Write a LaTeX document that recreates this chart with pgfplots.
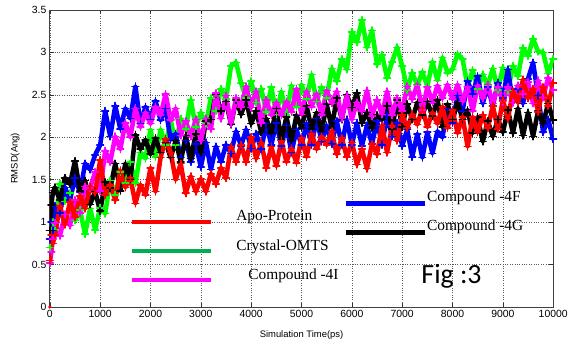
\documentclass[border=0pt]{standalone}
\usepackage{fontspec}
\setmainfont{Liberation Serif}
\setsansfont{Liberation Sans}
\newfontfamily\carlito{Carlito}
\usepackage{pgfplots}
\pgfplotsset{compat=1.18}
\definecolor{sgreen}{RGB}{0,255,0}
\definecolor{lgreen}{RGB}{0,176,80}
\definecolor{smag}{RGB}{255,0,255}
\pgfplotsset{ser/.style={line width=4.6pt, mark=+, mark size=3.4pt, mark options={line width=1.6pt}, line join=round, line cap=round}}
\begin{document}
\begin{tikzpicture}
\begin{axis}[name=ax,
  width=505bp, height=298bp, scale only axis,
  xmin=0, xmax=10000, ymin=0, ymax=3.5,
  xtick={0,1000,...,10000}, ytick={0,0.5,...,3.5},
  scaled x ticks=false,
  xticklabel style={/pgf/number format/1000 sep={}},
  /pgf/number format/assume math mode=true,
  tick label style={font=\sffamily\fontsize{10.5}{12}\selectfont},
  grid=major, major grid style={dotted, gray!70!black, line width=0.6pt},
  tick align=inside, tick pos=both, major tick length=4bp,
  tick style={gray!40!black, line width=0.6pt},
  axis line style={draw=gray!50!black, line width=0.9pt},
  xlabel={Simulation Time(ps)}, ylabel={RMSD(Ang)},
  label style={font=\sffamily\fontsize{9.5}{11}\selectfont},
  xlabel style={at={(axis description cs:0.5,-0.094)}, anchor=center},
  ylabel style={at={(axis description cs:-0.069,0.5)}, anchor=center},
]
% Crystal-OMTS
\addplot[ser, sgreen] coordinates {
(0,0.70)(30,0.90)(60,1.00)(100,0.91)(200,1.45)(300,1.25)(400,1.34)(500,1.02)(600,1.14)(700,0.86)(800,1.16)(900,0.91)
(1000,1.17)(1100,1.10)(1200,1.49)(1300,1.32)(1400,1.59)(1500,1.46)(1600,1.71)(1700,1.46)(1800,1.82)(1900,1.75)
(2000,2.09)(2100,1.77)(2200,2.09)(2300,1.91)(2400,2.21)(2500,1.91)(2600,2.22)(2700,2.10)(2800,2.44)(2900,2.12)
(3000,2.29)(3100,2.16)(3200,2.46)(3300,2.31)(3400,2.57)(3500,2.45)(3600,2.84)(3700,2.88)(3800,2.64)(3900,2.46)
(4000,2.66)(4100,2.41)(4200,2.57)(4300,2.30)(4400,2.59)(4500,2.27)(4600,2.54)(4700,2.26)(4800,2.61)(4900,2.36)
(5000,2.62)(5100,2.45)(5200,2.74)(5300,2.42)(5400,2.59)(5500,2.46)(5600,2.81)(5700,2.66)(5800,2.92)(5900,2.80)
(6000,3.24)(6100,3.12)(6200,3.38)(6300,3.06)(6400,3.26)(6500,2.86)(6600,2.97)(6700,2.70)(6800,2.89)(6900,3.06)
(7000,2.84)(7100,2.56)(7200,2.76)(7300,2.61)(7400,2.77)(7500,2.60)(7600,2.89)(7700,2.67)(7800,2.94)(7900,2.76)
(8000,2.80)(8100,2.98)(8200,2.92)(8300,2.60)(8400,2.79)(8500,2.57)(8600,2.74)(8700,2.61)(8800,2.81)(8900,2.56)
(9000,2.82)(9100,2.55)(9200,2.84)(9300,2.72)(9400,3.05)(9500,2.96)(9600,3.16)(9700,3.01)(9800,3.00)(9900,2.75)
(10000,2.92)};
% Compound-4F
\addplot[ser, blue] coordinates {
(0,0.80)(30,1.00)(60,0.90)(100,1.19)(200,1.11)(300,1.41)(400,1.26)(500,1.52)(600,1.35)(700,1.69)(800,1.62)(900,1.79)
(1000,1.91)(1100,2.31)(1200,2.01)(1300,2.37)(1400,2.10)(1500,2.34)(1600,2.22)(1700,2.60)(1800,2.16)(1900,2.36)
(2000,2.21)(2100,2.43)(2200,2.20)(2300,2.34)(2400,1.97)(2500,2.04)(2600,1.76)(2700,1.96)(2800,1.71)(2900,1.92)
(3000,1.65)(3100,1.94)(3200,1.62)(3300,1.89)(3400,1.71)(3500,1.91)(3600,1.81)(3700,2.07)(3800,1.90)(3900,2.09)
(4000,1.87)(4100,2.04)(4200,1.86)(4300,2.16)(4400,1.91)(4500,2.17)(4600,1.90)(4700,2.14)(4800,1.82)(4900,2.09)
(5000,1.91)(5100,2.16)(5200,1.91)(5300,2.22)(5400,1.95)(5500,2.14)(5600,1.92)(5700,2.19)(5800,1.91)(5900,2.21)
(6000,1.91)(6100,2.17)(6200,1.90)(6300,2.14)(6400,1.92)(6500,2.19)(6600,1.91)(6700,2.26)(6800,2.01)(6900,2.17)
(7000,1.90)(7100,2.09)(7200,1.77)(7300,2.04)(7400,1.76)(7500,2.06)(7600,1.81)(7700,2.07)(7800,2.00)(7900,2.34)
(8000,2.17)(8100,2.49)(8200,2.31)(8300,2.66)(8400,2.51)(8500,2.72)(8600,2.40)(8700,2.59)(8800,2.37)(8900,2.64)
(9000,2.46)(9100,2.80)(9200,2.41)(9300,2.57)(9400,2.40)(9500,2.69)(9600,2.88)(9700,2.49)(9800,2.06)(9900,2.21)
(10000,1.98)};
% Compound-4G
\addplot[ser, black] coordinates {
(0,0.90)(30,1.20)(60,1.35)(100,1.41)(200,1.26)(300,1.52)(400,1.45)(500,1.72)(600,1.37)(700,1.49)(800,1.21)(900,1.36)
(1000,1.13)(1100,1.47)(1200,1.40)(1300,1.69)(1400,1.37)(1500,1.69)(1600,1.51)(1700,2.03)(1800,1.86)(1900,1.97)
(2000,1.80)(2100,1.99)(2200,1.82)(2300,1.94)(2400,1.76)(2500,1.96)(2600,1.71)(2700,2.02)(2800,1.75)(2900,2.04)
(3000,1.82)(3100,2.19)(3200,2.21)(3300,2.51)(3400,2.31)(3500,2.42)(3600,2.15)(3700,2.44)(3800,2.27)(3900,2.44)
(4000,2.16)(4100,2.31)(4200,2.06)(4300,2.22)(4400,2.05)(4500,2.34)(4600,1.97)(4700,2.24)(4800,1.96)(4900,2.26)
(5000,2.11)(5100,2.37)(5200,2.10)(5300,2.29)(5400,2.07)(5500,2.39)(5600,2.11)(5700,2.46)(5800,2.21)(5900,2.50)
(6000,2.35)(6100,2.52)(6200,2.17)(6300,2.29)(6400,2.11)(6500,2.26)(6600,2.21)(6700,2.37)(6800,2.10)(6900,2.44)
(7000,2.12)(7100,2.39)(7200,2.21)(7300,2.41)(7400,2.26)(7500,2.42)(7600,2.25)(7700,2.44)(7800,2.12)(7900,2.39)
(8000,2.21)(8100,2.41)(8200,2.21)(8300,2.32)(8400,2.05)(8500,2.24)(8600,1.95)(8700,2.19)(8800,2.01)(8900,2.21)
(9000,2.06)(9100,2.32)(9200,2.05)(9300,2.34)(9400,2.02)(9500,2.29)(9600,2.01)(9700,2.31)(9800,2.16)(9900,2.40)
(10000,2.20)};
% Compound-4I
\addplot[ser, smag] coordinates {
(0,0.52)(30,0.65)(60,0.80)(100,0.99)(200,0.84)(300,1.09)(400,0.96)(500,1.26)(600,1.11)(700,1.42)(800,1.40)(900,1.59)
(1000,1.37)(1100,1.84)(1200,1.71)(1300,2.01)(1400,1.86)(1500,2.17)(1600,2.00)(1700,2.34)(1800,2.12)(1900,2.29)
(2000,2.16)(2100,2.36)(2200,2.26)(2300,2.51)(2400,2.20)(2500,2.34)(2600,2.02)(2700,2.19)(2800,2.01)(2900,2.21)
(3000,1.96)(3100,2.22)(3200,2.10)(3300,2.52)(3400,2.22)(3500,2.49)(3600,2.16)(3700,2.46)(3800,2.36)(3900,2.60)
(4000,2.35)(4100,2.54)(4200,2.17)(4300,2.44)(4400,2.26)(4500,2.41)(4600,2.26)(4700,2.42)(4800,2.30)(4900,2.57)
(5000,2.27)(5100,2.54)(5200,2.36)(5300,2.51)(5400,2.26)(5500,2.55)(5600,2.40)(5700,2.54)(5800,2.22)(5900,2.49)
(6000,2.21)(6100,2.41)(6200,2.31)(6300,2.55)(6400,2.25)(6500,2.44)(6600,2.27)(6700,2.54)(6800,2.26)(6900,2.46)
(7000,2.31)(7100,2.60)(7200,2.45)(7300,2.62)(7400,2.32)(7500,2.59)(7600,2.41)(7700,2.61)(7800,2.46)(7900,2.62)
(8000,2.45)(8100,2.62)(8200,2.42)(8300,2.59)(8400,2.31)(8500,2.61)(8600,2.46)(8700,2.62)(8800,2.40)(8900,2.59)
(9000,2.42)(9100,2.59)(9200,2.41)(9300,2.61)(9400,2.51)(9500,2.65)(9600,2.40)(9700,2.67)(9800,2.47)(9900,2.70)
(10000,2.56)};
% Apo-Protein
\addplot[ser, red] coordinates {
(0,0.55)(30,0.85)(60,0.75)(100,0.85)(200,1.19)(300,0.97)(400,1.24)(500,1.06)(600,1.31)(700,1.16)(800,1.42)(900,1.35)
(1000,1.73)(1100,1.32)(1200,1.44)(1300,1.26)(1400,1.61)(1500,1.41)(1600,1.52)(1700,1.22)(1800,1.44)(1900,1.32)
(2000,1.64)(2100,1.36)(2200,1.76)(2300,1.98)(2400,1.82)(2500,1.50)(2600,1.69)(2700,1.34)(2800,1.54)(2900,1.36)
(3000,1.51)(3100,1.36)(3200,1.57)(3300,1.45)(3400,1.64)(3500,1.52)(3600,1.89)(3700,1.71)(3800,1.91)(3900,1.71)
(4000,2.00)(4100,1.75)(4200,1.94)(4300,1.64)(4400,1.89)(4500,1.66)(4600,1.96)(4700,1.71)(4800,1.87)(4900,1.70)
(5000,1.99)(5100,1.77)(5200,2.04)(5300,1.86)(5400,2.01)(5500,1.91)(5600,2.07)(5700,1.80)(5800,1.99)(5900,1.77)
(6000,1.94)(6100,1.68)(6200,1.86)(6300,1.63)(6400,1.92)(6500,1.80)(6600,2.14)(6700,1.82)(6800,2.14)(6900,1.96)
(7000,2.26)(7100,2.11)(7200,2.27)(7300,2.15)(7400,2.34)(7500,2.12)(7600,2.29)(7700,2.16)(7800,2.36)(7900,2.11)
(8000,2.32)(8100,2.05)(8200,2.24)(8300,1.89)(8400,2.24)(8500,2.06)(8600,2.26)(8700,2.11)(8800,2.37)(8900,2.10)
(9000,2.44)(9100,2.22)(9200,2.54)(9300,2.41)(9400,2.68)(9500,2.46)(9600,2.57)(9700,2.30)(9800,2.59)(9900,2.37)
(10000,2.64)};
\addplot[only marks, mark=*, mark size=1.4pt, red] coordinates {(0,0)};
% legend segments
\addplot[red, line width=4.5pt] coordinates {(1640,1.0)(3210,1.0)};
\addplot[lgreen, line width=4.5pt] coordinates {(1640,0.66)(3210,0.66)};
\addplot[smag, line width=4.5pt] coordinates {(1640,0.32)(3210,0.32)};
\addplot[blue, line width=4.5pt] coordinates {(5880,1.22)(7450,1.22)};
\addplot[black, line width=4.5pt] coordinates {(5880,0.88)(7450,0.88)};
\node[anchor=west, inner sep=0pt, font=\fontsize{15.5}{17}\selectfont] at (axis cs:3700,1.06) {Apo-Protein};
\node[anchor=west, inner sep=0pt, font=\fontsize{15.5}{17}\selectfont] at (axis cs:3700,0.71) {Crystal-OMTS};
\node[anchor=west, inner sep=0pt, font=\fontsize{15.5}{17}\selectfont] at (axis cs:3940,0.37) {Compound -4I};
\node[anchor=west, inner sep=0pt, font=\fontsize{15.5}{17}\selectfont] at (axis cs:7490,1.29) {Compound -4F};
\node[anchor=west, inner sep=0pt, font=\fontsize{15.5}{17}\selectfont] at (axis cs:7490,0.95) {Compound -4G};
\node[anchor=center, inner sep=0pt, font=\carlito\fontsize{28}{30}\selectfont] at (axis cs:7980,0.36) {Fig :3};
\end{axis}
\path ([xshift=-50bp]ax.south west) ([xshift=16bp,yshift=10bp]ax.north east) ([yshift=-37bp]ax.south east);
\end{tikzpicture}
\end{document}
